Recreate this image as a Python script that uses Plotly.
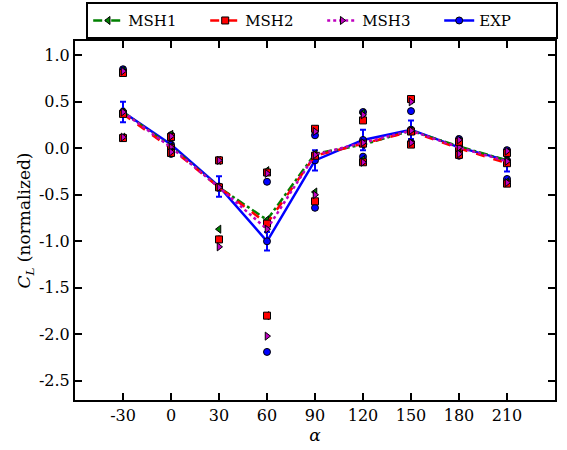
import plotly.graph_objects as go

# Angle of attack (deg)
angles = [-30, 0, 30, 60, 90, 120, 150, 180, 210]

# Normalized lift coefficient: central value plus upper/lower samples
msh1 = [0.39, 0.02, -0.42, -0.77, -0.06, 0.04, 0.19, 0.02, -0.13]
msh1_hi = [0.84, 0.15, -0.13, -0.24, 0.20, 0.38, 0.52, 0.08, -0.04]
msh1_lo = [0.12, -0.04, -0.87, -1.80, -0.47, -0.12, 0.05, -0.05, -0.36]

msh2 = [0.37, 0.00, -0.42, -0.81, -0.08, 0.05, 0.18, 0.00, -0.16]
msh2_hi = [0.81, 0.12, -0.13, -0.26, 0.21, 0.30, 0.53, 0.07, -0.05]
msh2_lo = [0.11, -0.05, -0.98, -1.80, -0.57, -0.15, 0.04, -0.07, -0.38]

msh3 = [0.39, 0.01, -0.42, -0.87, -0.07, 0.06, 0.19, 0.01, -0.14]
msh3_hi = [0.83, 0.13, -0.13, -0.27, 0.18, 0.36, 0.50, 0.09, -0.03]
msh3_lo = [0.12, -0.04, -1.06, -2.02, -0.50, -0.15, 0.06, -0.06, -0.37]

exp = [0.39, 0.04, -0.41, -1.00, -0.13, 0.09, 0.20, 0.01, -0.13]
exp_err = [0.11, 0.05, 0.11, 0.10, 0.11, 0.11, 0.10, 0.03, 0.12]
exp_hi = [0.85, 0.14, -0.13, -0.36, 0.14, 0.39, 0.40, 0.10, -0.02]
exp_lo = [0.11, -0.06, -0.98, -2.19, -0.64, -0.09, 0.06, -0.08, -0.33]

x_ticks = [-30, 0, 30, 60, 90, 120, 150, 180, 210]
x_ticktext = ["-30", "0", "30", "60", "90", "120", "150", "180", "210"]
y_ticks = [1.0, 0.5, 0.0, -0.5, -1.0, -1.5, -2.0, -2.5]
y_ticktext = ["1.0", "0.5", "0.0", "-0.5", "-1.0", "-1.5", "-2.0", "-2.5"]

FONT = "DejaVu Serif"

series = [
    ("MSH1", msh1, msh1_hi, msh1_lo, "green", "triangle-left", "dashdot"),
    ("MSH2", msh2, msh2_hi, msh2_lo, "red", "square", "dash"),
    ("MSH3", msh3, msh3_hi, msh3_lo, "#bf00bf", "triangle-right", "dot"),
]

fig = go.Figure()

# experimental curve with error bars
fig.add_trace(go.Scatter(
    x=angles, y=exp, name="EXP", mode="lines+markers",
    line=dict(color="blue", width=2.5),
    marker=dict(symbol="circle", size=7, color="blue",
                line=dict(color="black", width=1)),
    error_y=dict(type="data", array=exp_err, color="blue",
                 thickness=2, width=3),
))

for name, mid, hi, lo, color, symbol, dash in series:
    fig.add_trace(go.Scatter(
        x=angles, y=mid, name=name, mode="lines+markers",
        line=dict(color=color, width=2.5, dash=dash),
        marker=dict(symbol=symbol, size=7, color=color,
                    line=dict(color="black", width=1)),
    ))

# individual samples above and below the central values
sample_styles = [("blue", "circle", exp_hi, exp_lo)] + [
    (c, s, h, l) for _, _, h, l, c, s, _ in series
]
for color, symbol, hi, lo in sample_styles:
    fig.add_trace(go.Scatter(
        x=angles + angles, y=hi + lo, mode="markers", showlegend=False,
        marker=dict(symbol=symbol, size=7, color=color,
                    line=dict(color="black", width=1)),
        hoverinfo="skip",
    ))

# legend order: MSH1, MSH2, MSH3, EXP
fig.data[0].legendrank = 4
for i, tr in enumerate(fig.data[1:4]):
    tr.legendrank = i + 1

axis_common = dict(
    showline=True, linecolor="black", linewidth=2, mirror="allticks",
    ticks="inside", ticklen=7, tickwidth=1.5, tickcolor="black",
    showgrid=False, zeroline=False,
    tickfont=dict(family=FONT, size=16, color="black"),
)

fig.update_layout(
    width=567, height=450,
    margin=dict(l=75, r=12, t=41, b=50, autoexpand=False),
    paper_bgcolor="white", plot_bgcolor="white",
    font=dict(family=FONT, color="black"),
    showlegend=True,
    legend=dict(
        orientation="h", x=0.515, xanchor="center", y=1.108, yanchor="top",
        bordercolor="black", borderwidth=2,
        font=dict(family=FONT, size=15, color="black"),
        entrywidth=72, entrywidthmode="pixels",
        tracegroupgap=0, itemwidth=30,
    ),
    xaxis=dict(
        range=[-60, 240], tickvals=x_ticks, ticktext=x_ticktext,
        title=dict(text="<i>α</i>", font=dict(family=FONT, size=17),
                   standoff=2),
        **axis_common,
    ),
    yaxis=dict(
        range=[-2.707, 1.154], tickvals=y_ticks, ticktext=y_ticktext,
        title=dict(text="<i>C</i><sub><i>L</i></sub> (normalized)",
                   font=dict(family=FONT, size=17), standoff=4),
        **axis_common,
    ),
)

fig.write_html("out.html")
